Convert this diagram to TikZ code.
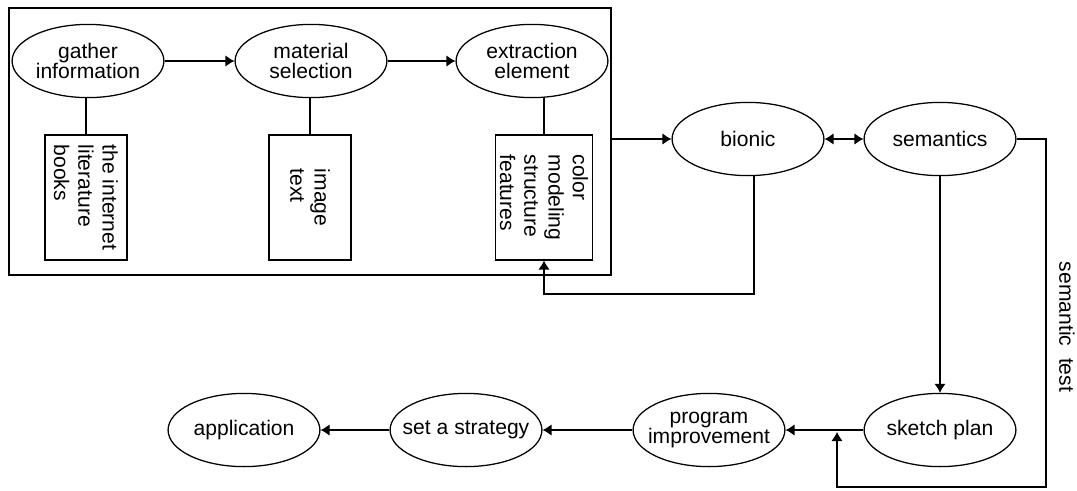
\documentclass[tikz,border=0pt]{standalone}
\usepackage{fontspec}
\setmainfont{Liberation Sans}
\usepackage{tikz}
\usetikzlibrary{arrows.meta,positioning,shapes.geometric}

\begin{document}
\begin{tikzpicture}[x=0.016667cm, y=-0.016667cm, semithick,
    font=\fontsize{10}{9.5}\selectfont,
    oval/.style={ellipse, draw, minimum width=2.53cm, minimum height=1.22cm, inner sep=-2mm, align=center},
    src/.style={rectangle, draw, rotate=-90, align=left, minimum width=2.08cm, minimum height=1.37cm, inner sep=2pt, font=\fontsize{10}{11.5}\selectfont},
    frame/.style={rectangle, draw, minimum width=10.03cm, minimum height=4.45cm},
    arr/.style={-{Latex[length=1.5mm,width=1.9mm]}},
    biarr/.style={{Latex[length=1.5mm,width=1.9mm]}-{Latex[length=1.5mm,width=1.9mm]}}
]
\useasboundingbox (0,0) rectangle (1077,490);

% Collecting stage
\node[frame] (group) at (310,141.5) {};
\node[oval] (gather) at (88,61) {gather\\information};
\node[oval] (select) at (311,61) {material\\selection};
\node[oval] (extract) at (532,61) {extraction\\element};
\node[src] (info) at (86,197.5) {the internet\\literature\\books};
\node[src] (media) at (310,197.5) {image\\text};
\node[src] (feat) at (544,197.5) {color\\modeling\\structure\\features};

\draw[arr] (gather) -- (select);
\draw[arr] (select) -- (extract);
\draw (info.west) -- (info.west |- gather.south);
\draw (media.west) -- (media.west |- select.south);
\draw (feat.west) -- (feat.west |- extract.south);

% Design stage
\node[oval] (bionic) at (748,139) {bionic};
\node[oval] (sem) at (940,139) {semantics};
\node[oval] (sketch) at (940,430) {sketch plan};
\node[oval] (prog) at (709,430) {program\\improvement};
\node[oval] (strat) at (466,430) {set a strategy};
\node[oval] (app) at (244,430) {application};
\node[rotate=-90] (test) at (1067,327) {semantic\ \ test};

\coordinate (back) at (754,294);
\coordinate (loop) at (1046,487);
\coordinate (join) at (837,432);

\draw[arr] (group.east |- bionic.west) -- (bionic.west);
\draw[biarr] (bionic) -- (sem);
\draw[arr] (bionic.south -| back) -- (back) -| (feat.east);
\draw[arr] (sem.south) -- (sketch.north);
\draw[arr] (sem.east) -| (loop) -| (join);
\draw[arr] (sketch) -- (prog);
\draw[arr] (prog) -- (strat);
\draw[arr] (strat) -- (app);

\end{tikzpicture}
\end{document}
